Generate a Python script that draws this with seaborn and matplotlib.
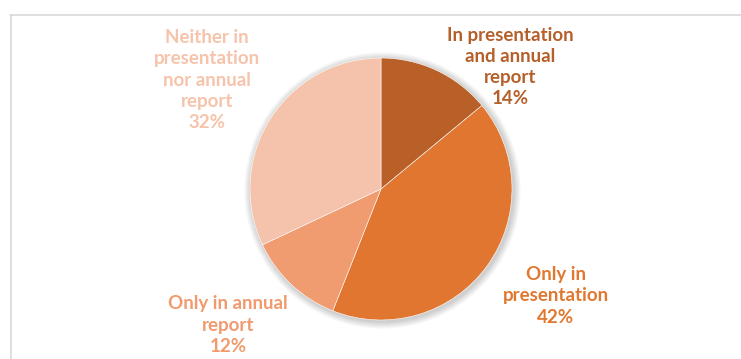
import matplotlib
matplotlib.use("Agg")
import matplotlib.pyplot as plt
from matplotlib.patches import Circle
from matplotlib.lines import Line2D
import seaborn as sns

# Share of companies disclosing the topic, by channel
categories = [
    "In presentation\nand annual\nreport",
    "Only in\npresentation",
    "Only in annual\nreport",
    "Neither in\npresentation\nnor annual\nreport",
]
shares = [14, 42, 12, 32]
slice_colors = ["#B95F28", "#E0762F", "#F09B70", "#F5C2AB"]
label_colors = ["#B5602A", "#E07830", "#F09A6E", "#F6C3AB"]
# label anchor (x, y) in canvas pixels, measured from the top-left
label_pos = [(510, 67), (556, 296), (228, 325), (207, 80)]

sns.set_theme(style="white")
plt.rcParams["font.family"] = ["Lato", "DejaVu Sans"]

W, H = 741, 359
fig = plt.figure(figsize=(W / 100, H / 100), dpi=100)
ax = fig.add_axes([0, 0, 1, 1])

cx, cy, r = 381, H - 189, 131

# soft drop shadow under the pie
for i in range(8):
    ax.add_patch(Circle((cx + 1.5, cy - 1.5), r + 1 + i * 0.9,
                        color="black", alpha=0.025, lw=0, zorder=1))

wedges, _ = ax.pie(shares, colors=slice_colors, startangle=90,
                   counterclock=False, center=(cx, cy), radius=r,
                   wedgeprops=dict(linewidth=0.4, edgecolor="white"),
                   frame=True)
for w in wedges:
    w.set_zorder(2)
ax.set_xlim(0, W)
ax.set_ylim(0, H)
ax.set_aspect("equal")
ax.axis("off")

for cat, val, col, (px, py) in zip(categories, shares, label_colors, label_pos):
    ax.text(px, H - py, f"{cat}\n{val}%", ha="center", va="center",
            color=col, fontsize=13.5, fontweight="bold", linespacing=1.3,
            zorder=3)

# light chart border
fig.add_artist(Line2D([10.5 / W, 10.5 / W], [0, 1 - 15 / H],
                      color="#D9D9D9", lw=1.2))
fig.add_artist(Line2D([10 / W, 1], [1 - 15 / H, 1 - 15 / H],
                      color="#D9D9D9", lw=1.2))

fig.savefig("out.png", dpi=100, facecolor="white")
